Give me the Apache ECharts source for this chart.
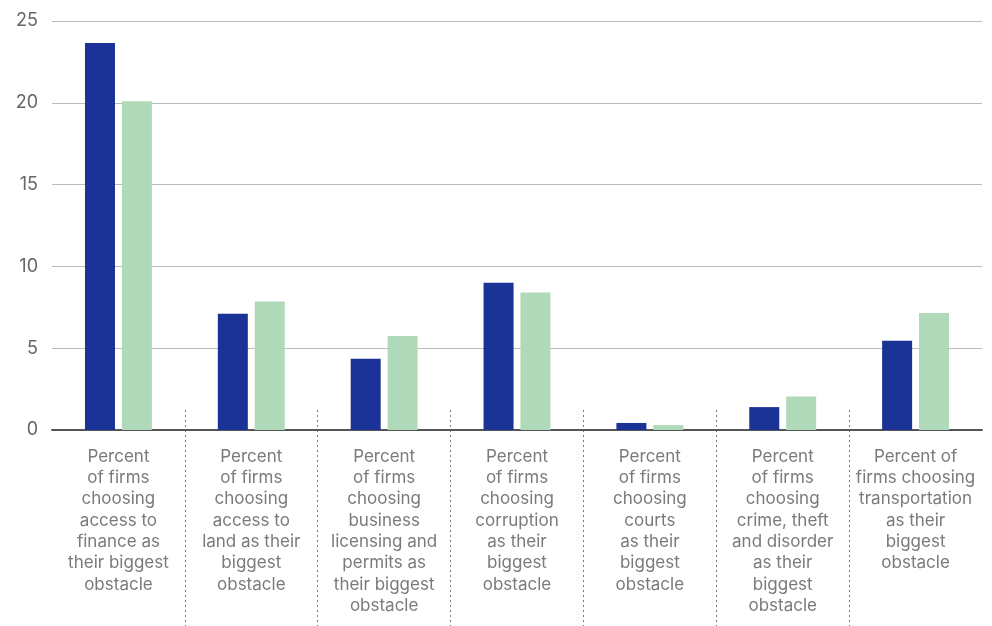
<!DOCTYPE html>
<html><head><meta charset="utf-8">
<script src="https://cdn.jsdelivr.net/npm/echarts@6/dist/echarts.min.js"></script>
<style>html,body{margin:0;padding:0;background:#fff}#c{width:992px;height:626px}</style>
</head><body><div id="c"></div>
<script>
const categories = [
  "Percent\nof firms\nchoosing\naccess to\nfinance as\ntheir biggest\nobstacle",
  "Percent\nof firms\nchoosing\naccess to\nland as their\nbiggest\nobstacle",
  "Percent\nof firms\nchoosing\nbusiness\nlicensing and\npermits as\ntheir biggest\nobstacle",
  "Percent\nof firms\nchoosing\ncorruption\nas their\nbiggest\nobstacle",
  "Percent\nof firms\nchoosing\ncourts\nas their\nbiggest\nobstacle",
  "Percent\nof firms\nchoosing\ncrime, theft\nand disorder\nas their\nbiggest\nobstacle",
  "Percent of\nfirms choosing\ntransportation\nas their\nbiggest\nobstacle"
];
const seriesA = [23.65, 7.1, 4.35, 9.0, 0.43, 1.4, 5.45];
const seriesB = [20.1, 7.85, 5.75, 8.4, 0.3, 2.05, 7.15];
const yTicks = {min: 0, max: 25, interval: 5};

const chart = echarts.init(document.getElementById('c'));
chart.setOption({
  animation: false,
  grid: [
    {left: 52, right: 10, top: 21, bottom: 196, containLabel: false},
    {left: 52, right: 10, top: 410, bottom: 0, containLabel: false}
  ],
  xAxis: [
    {type: 'category', data: categories, gridIndex: 0,
     axisLine: {lineStyle: {color: '#555', width: 2}},
     axisTick: {show: false},
     axisLabel: {interval: 0, color: '#7a7a7a', fontSize: 17, lineHeight: 21.3,
                 fontFamily: 'Inter, Roboto, sans-serif', margin: 16}},
    {type: 'value', gridIndex: 1, min: 0, max: 7, interval: 1,
     axisLine: {show: false}, axisTick: {show: false}, axisLabel: {show: false},
     splitLine: {show: true, showMinLine: false, showMaxLine: false,
                 lineStyle: {color: '#777', type: [2, 3], width: 1}}}
  ],
  yAxis: [
    {type: 'value', gridIndex: 0, min: yTicks.min, max: yTicks.max, interval: yTicks.interval,
     axisLine: {show: false}, axisTick: {show: false},
     axisLabel: {color: '#666', fontSize: 18, fontFamily: 'Inter, Roboto, sans-serif', margin: 14},
     splitLine: {lineStyle: {color: '#bbb', width: 1}}},
    {type: 'value', gridIndex: 1, show: false}
  ],
  series: [
    {type: 'bar', data: seriesA, xAxisIndex: 0, yAxisIndex: 0, barWidth: 30, barGap: '23%',
     itemStyle: {color: '#1b3397'}},
    {type: 'bar', data: seriesB, xAxisIndex: 0, yAxisIndex: 0, barWidth: 30, barGap: '23%',
     itemStyle: {color: '#b0d9b9'}}
  ]
});
</script></body></html>
